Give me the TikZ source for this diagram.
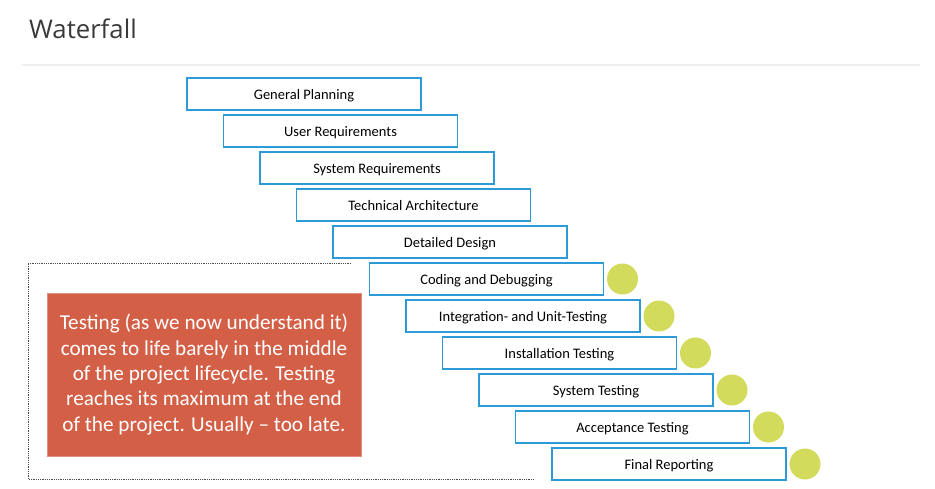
\documentclass[tikz,border=0pt]{standalone}
\usepackage{fontspec}
\setmainfont{Carlito}
\newfontfamily\titlefont{Open Sans}
\definecolor{boxblue}{HTML}{2C9AD6}
\definecolor{dotgreen}{HTML}{D3DB5C}
\definecolor{notered}{HTML}{D45F47}
\definecolor{titlegray}{HTML}{3A3A3A}
\definecolor{rulegray}{HTML}{EFEFEF}
\tikzset{
  phasebox/.style={draw=boxblue, line width=1.1pt, fill=white, minimum width=234pt, minimum height=32pt, inner sep=0pt, text height=10.5pt, text depth=0pt, font=\fontsize{14.5}{16}\selectfont},
  testdot/.style={circle, fill=dotgreen, minimum size=31pt, inner sep=0pt},
  notebox/.style={fill=notered, draw=notered!70!white, line width=0.6pt, minimum width=314pt, minimum height=163pt, inner sep=0pt, text=white, align=center, font=\fontsize{21.2}{25.3}\selectfont},
}
\begin{document}
\begin{tikzpicture}[x=1pt,y=-1pt]
\useasboundingbox (0,0) rectangle (935,489);
\node[anchor=base west, text=titlegray, font=\titlefont\fontsize{25.7}{30}\selectfont, inner sep=0pt] (title) at (29,39) {Waterfall};
\coordinate (rl) at (22,65);
\coordinate (rr) at (920,65);
\draw[rulegray, line width=1.8pt] (rl) -- (rr);
\coordinate (d1) at (351,263);
\coordinate (d2) at (28,263);
\coordinate (d3) at (28,479);
\coordinate (d4) at (534,479);
\draw[densely dotted, line width=0.8pt, black!70] (d1) -- (d2) -- (d3) -- (d4);
\foreach \i/\t in {1/General Planning, 2/User Requirements, 3/System Requirements, 4/Technical Architecture, 5/Detailed Design, 6/Coding and Debugging, 7/Integration- and Unit-Testing, 8/Installation Testing, 9/System Testing, 10/Acceptance Testing, 11/Final Reporting}{
  \node[phasebox] (b\i) at ({304+36.5*(\i-1)},{94+37*(\i-1)}) {\t};
}
\foreach \i in {6,...,11}{
  \node[testdot] (c\i) at ({440+36.5*(\i-1)},{94+37*(\i-1)}) {};
}
\node[notebox] (note) at (204,374.5) {Testing (as we now understand it)\\comes to life barely in the middle\\of the project lifecycle. Testing\\reaches its maximum at the end\\of the project. Usually -- too late.};
\end{tikzpicture}
\end{document}
